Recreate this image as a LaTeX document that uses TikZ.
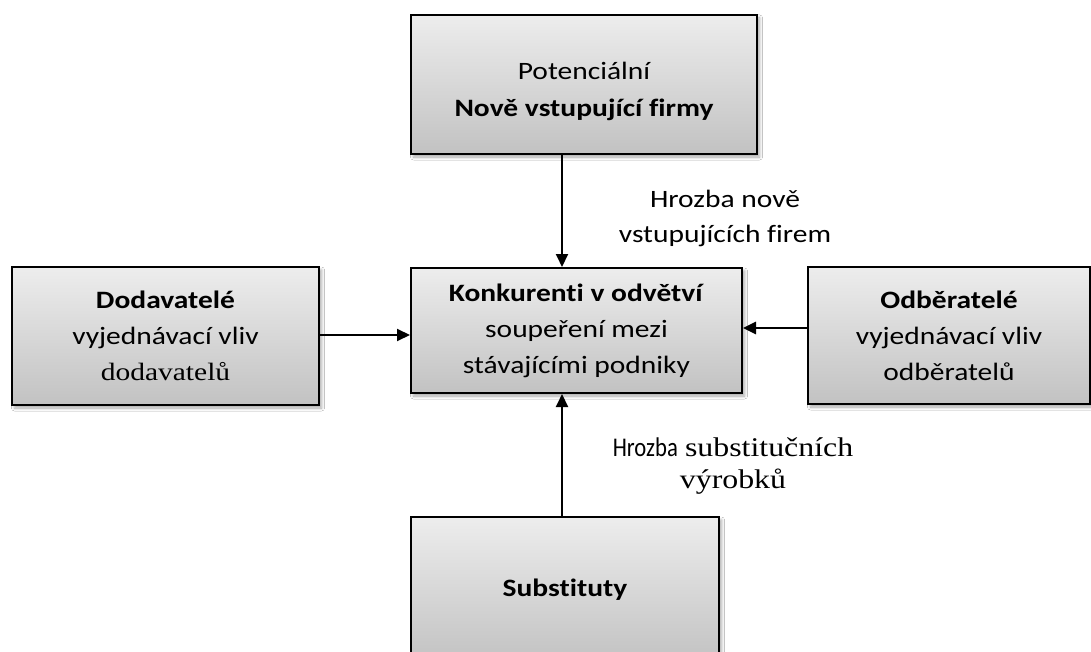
\documentclass[tikz,border=0pt]{standalone}
\usepackage{fontspec}
\setmainfont{Carlito}[FakeStretch=1.18, Ligatures=NoCommon]
\newfontfamily\tnr{Liberation Serif}[FakeStretch=1.18]
\newfontfamily\narrowcal{Carlito}[FakeStretch=0.84, Ligatures=NoCommon]
\usetikzlibrary{arrows.meta,shadows.blur}
\definecolor{boxtop}{HTML}{EDEDED}
\definecolor{boxbot}{HTML}{C2C2C2}
\tikzset{
  box/.style={draw=black, line width=2pt, top color=boxtop, bottom color=boxbot,
    inner sep=0pt, align=center, font=\fontsize{25}{36}\selectfont,
    blur shadow={shadow xshift=2.5pt, shadow yshift=-3pt, shadow blur steps=6, shadow blur radius=3pt, shadow opacity=35}},
  arr/.style={line width=2pt, -{Triangle[length=13pt,width=12pt]}},
  lbl/.style={align=center, inner sep=0pt, font=\fontsize{25}{35}\selectfont}
}
\begin{document}
\begin{tikzpicture}[x=1pt,y=-1pt]
\useasboundingbox[fill=white] (0,0) rectangle (1091,652);
\node[box, minimum width=346pt, minimum height=139pt] (top) at (584,84.5) {};
\node[lbl, font=\fontsize{25}{37}\selectfont] (toptxt) at (584,91)
  {Potenciální\\\textbf{Nově vstupující firmy}};
\node[box, minimum width=331pt, minimum height=125pt] (cen) at (576.5,330.5)
  {\textbf{Konkurenti v odvětví}\\soupeření mezi\\stávajícími podniky};
\node[box, minimum width=307pt, minimum height=138pt] (lft) at (165.5,336)
  {\textbf{Dodavatelé}\\vyjednávací vliv\\\tnr dodavatelů};
\node[box, minimum width=282pt, minimum height=137pt] (rgt) at (949,335.5)
  {\textbf{Odběratelé}\\vyjednávací vliv\\odběratelů};
\node[box, minimum width=308pt, minimum height=146pt] (sub) at (565,590)
  {\textbf{Substituty}};
\node[lbl] (l1) at (725,218) {Hrozba nově\\vstupujících firem};
\node[lbl, font=\fontsize{27}{32}\selectfont] (l2) at (733,466)
  {{\narrowcal Hrozba} {\tnr substitučních}\\\tnr výrobků};
\draw[arr] ([xshift=-22pt]top.south) -- ([xshift=-14.5pt]cen.north);
\draw[arr] ([xshift=-3pt]sub.north) -- ([xshift=-14.5pt]cen.south);
\draw[arr] ([yshift=1pt]lft.east) -- ([yshift=-4.5pt]cen.west);
\draw[arr, line width=2.6pt] ([yshift=7.5pt]rgt.west) -- ([yshift=2.5pt]cen.east);
\end{tikzpicture}
\end{document}
